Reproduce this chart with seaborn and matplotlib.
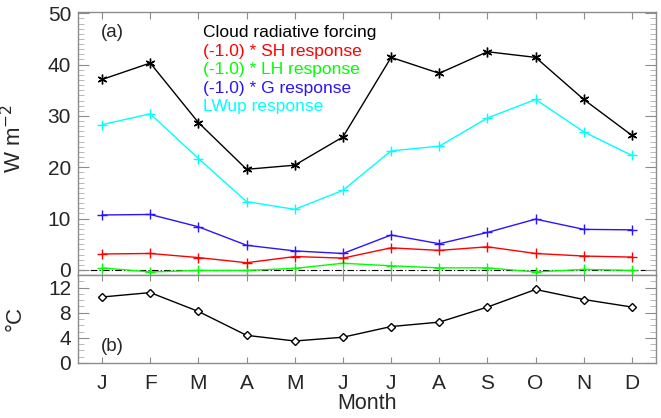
import numpy as np
import pandas as pd
import matplotlib
matplotlib.use("Agg")
import matplotlib.pyplot as plt
import seaborn as sns
from matplotlib.ticker import MultipleLocator

months = ["J", "F", "M", "A", "M", "J", "J", "A", "S", "O", "N", "D"]
crf = [37.1, 40.3, 28.7, 19.6, 20.4, 25.9, 41.4, 38.3, 42.5, 41.4, 33.2, 26.2]
sh = [3.1, 3.2, 2.4, 1.4, 2.6, 2.3, 4.3, 3.8, 4.5, 3.2, 2.7, 2.5]
lh = [0.4, -0.4, -0.1, -0.1, 0.3, 1.3, 0.8, 0.4, 0.4, -0.4, 0.1, -0.1]
g = [10.7, 10.8, 8.4, 4.8, 3.7, 3.2, 6.8, 5.1, 7.3, 9.9, 7.9, 7.8]
lwup = [28.3, 30.4, 21.7, 13.3, 11.8, 15.5, 23.2, 24.1, 29.6, 33.2, 26.9, 22.3]
temp = [10.5, 11.2, 8.2, 4.4, 3.5, 4.1, 5.8, 6.5, 8.9, 11.7, 10.1, 8.9]

series_names = ["Cloud radiative forcing", "(-1.0) * SH response",
                "(-1.0) * LH response", "(-1.0) * G response", "LWup response"]
series_vals = [crf, sh, lh, g, lwup]
colors = ["black", "#ff0000", "#00ff00", "#2a14ff", "#00ffff"]

sns.set_style("ticks")
plt.rcParams["font.family"] = ["Liberation Sans", "DejaVu Sans"]

x = np.arange(12)
df = pd.DataFrame({
    "month": np.tile(x, len(series_names)),
    "value": np.concatenate(series_vals),
    "series": np.repeat(series_names, 12),
})
dft = pd.DataFrame({"month": x, "temp": temp})

fig = plt.figure(figsize=(6.61, 4.18), dpi=100)
ax1 = fig.add_axes([0.118, 0.342, 0.8745, 0.630])
ax2 = fig.add_axes([0.118, 0.1316, 0.8745, 0.2105])

spine_c = "#8c8c8c"
for name, col in list(zip(series_names, colors))[::-1]:
    sub = df[df.series == name]
    is_crf = name.startswith("Cloud")
    mk = (6, 2, 0) if is_crf else "+"
    sns.lineplot(data=sub, x="month", y="value", ax=ax1, color=col,
                 marker=mk, markersize=7, markeredgewidth=1.0,
                 markeredgecolor=col, linewidth=1.0, legend=False)

ax1.axhline(0, color="black", linestyle=(0, (6, 2, 1, 2)), linewidth=0.8, zorder=0)
ax1.set_xlim(-0.5, 11.5)
ax1.set_ylim(-1.0, 50.3)
ax1.set_yticks([0, 10, 20, 30, 40, 50])
ax1.yaxis.set_minor_locator(MultipleLocator(1))
ax1.set_xticks(x)
ax1.tick_params(axis="x", which="both", labelbottom=False, bottom=True, top=True,
                direction="in", length=5, color=spine_c)
ax1.set_xlabel("")
ax1.set_ylabel("W m$^{-2}$", fontsize=16)
ax1.yaxis.set_label_coords(-0.09, 0.52)

sns.lineplot(data=dft, x="month", y="temp", ax=ax2, color="black",
             marker="D", markersize=4.5, markerfacecolor="white",
             markeredgecolor="black", markeredgewidth=1.0, linewidth=1.0)
ax2.set_xlim(-0.5, 11.5)
ax2.set_ylim(0, 14)
ax2.set_yticks([0, 4, 8, 12])
ax2.yaxis.set_minor_locator(MultipleLocator(1))
ax2.set_xticks(x)
ax2.set_xticklabels(months)
ax2.tick_params(axis="x", which="both", bottom=True, top=True, direction="in",
                length=4, color=spine_c, labelsize=15, pad=8)
ax2.set_xlabel("Month", fontsize=15.5, labelpad=0)
ax2.set_ylabel("°C", fontsize=16)
ax2.yaxis.set_label_coords(-0.09, 0.5)

for ax in (ax1, ax2):
    for s in ax.spines.values():
        s.set_visible(True)
        s.set_color(spine_c)
        s.set_linewidth(1.0)
    ax.tick_params(axis="y", which="major", left=True, right=True, direction="in",
                   length=8, color=spine_c, labelsize=15, pad=5)
    ax.tick_params(axis="y", which="minor", left=True, right=True, direction="in",
                   length=4, color="#b0b0b0")

ax1.text(0.04, 0.92, "(a)", transform=ax1.transAxes, fontsize=13.5, va="center")
ax2.text(0.04, 0.19, "(b)", transform=ax2.transAxes, fontsize=13.5, va="center")

ty = [0.920, 0.850, 0.779, 0.709, 0.639]
for name, col, yy in zip(series_names, colors, ty):
    ax1.text(0.216, yy, name, color=col, transform=ax1.transAxes,
             fontsize=12.5, va="center")

fig.savefig("out.png", dpi=100)
